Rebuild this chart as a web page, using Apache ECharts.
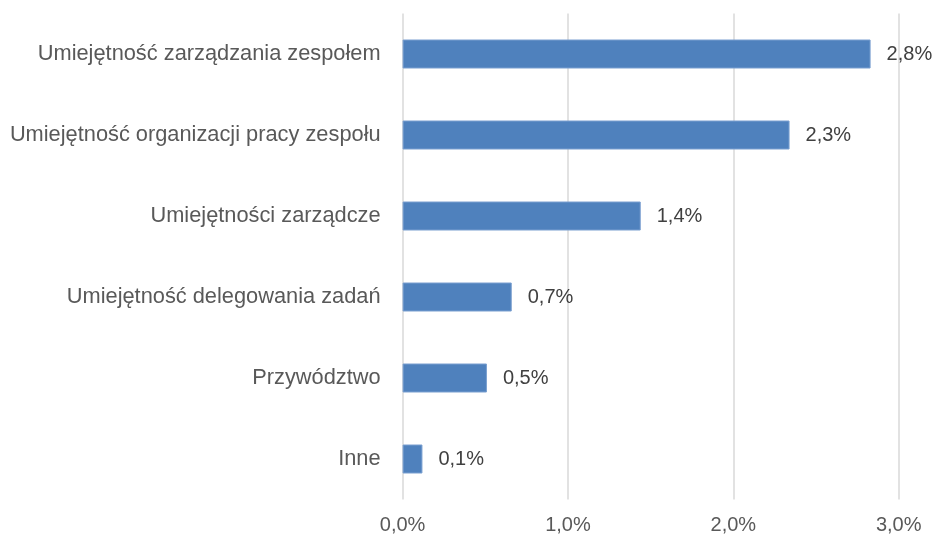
<!DOCTYPE html>
<html>
<head>
<meta charset="utf-8">
<script src="https://cdn.jsdelivr.net/npm/echarts@6/dist/echarts.min.js"></script>
<style>
  html, body { margin: 0; padding: 0; background: #fff; }
  #chart { width: 933px; height: 540px; }
</style>
</head>
<body>
<div id="chart"></div>
<script>
// dane (w %)
var categories = [
    'Umiejętność zarządzania zespołem',
    'Umiejętność organizacji pracy zespołu',
    'Umiejętności zarządcze',
    'Umiejętność delegowania zadań',
    'Przywództwo',
    'Inne'
];
var values = [2.83, 2.34, 1.44, 0.66, 0.51, 0.12];
var tickValues = [0, 1, 2, 3];

function pct(v) {
    return v.toFixed(1).replace('.', ',') + '%';
}

var myChart = echarts.init(document.getElementById('chart'));

var option = {
    animation: false,
    textStyle: { fontFamily: 'Liberation Sans' },
    grid: {
        left: 402.6,
        right: 34.3,
        top: 13.5,
        bottom: 40.5,
        containLabel: false
    },
    xAxis: {
        type: 'value',
        min: tickValues[0],
        max: tickValues[tickValues.length - 1],
        interval: 1,
        axisLine: { show: false },
        axisTick: { show: false },
        splitLine: { lineStyle: { color: '#d9d9d9', width: 1.5 } },
        axisLabel: {
            color: '#595959',
            fontSize: 20,
            margin: 16,
            formatter: function (v) { return pct(v); }
        }
    },
    yAxis: {
        type: 'category',
        inverse: true,
        data: categories,
        axisLine: { show: false },
        axisTick: { show: false },
        axisLabel: {
            color: '#595959',
            fontSize: 21.8,
            margin: 22
        }
    },
    series: [{
        type: 'bar',
        data: values,
        barWidth: 29,
        itemStyle: {
            color: '#4f81bd',
            borderColor: '#7a9fd0',
            borderWidth: 1
        },
        label: {
            show: true,
            position: 'right',
            distance: 16,
            color: '#404040',
            fontSize: 20,
            formatter: function (p) { return pct(p.value); }
        }
    }]
};

myChart.setOption(option);
</script>
</body>
</html>
